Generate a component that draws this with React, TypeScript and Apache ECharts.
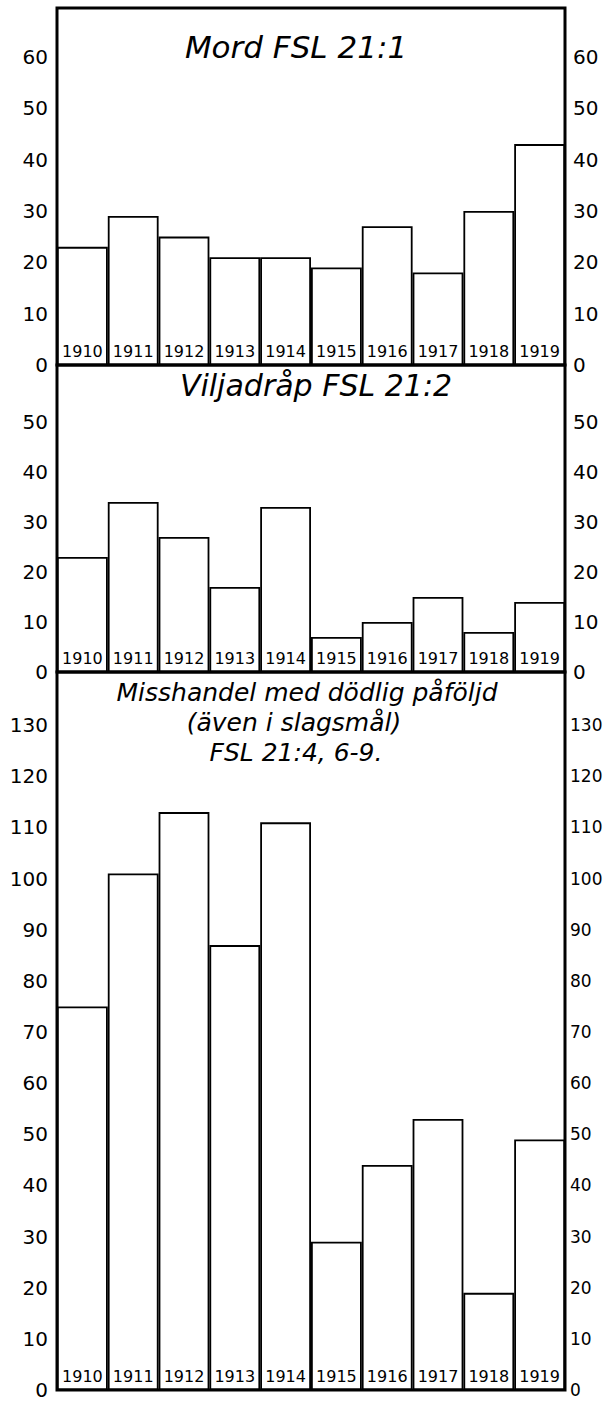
import React, { useEffect, useRef } from "react";
import * as echarts from "echarts";

const years = ["1910", "1911", "1912", "1913", "1914", "1915", "1916", "1917", "1918", "1919"];
const mordValues = [23, 29, 25, 21, 21, 19, 27, 18, 30, 43];
const viljadrapValues = [23, 34, 27, 17, 33, 7, 10, 15, 8, 14];
const misshandelValues = [75, 101, 113, 87, 111, 29, 44, 53, 19, 49];

const panelTitles = [
  ["Mord FSL 21:1"],
  ["Viljadråp FSL 21:2"],
  ["Misshandel med dödlig påföljd", "(även i slagsmål)", "FSL 21:4, 6-9."],
];
const axisMax = [69.5, 61.4, 140.4];
const labelMax = [60, 50, 130];

export default function App() {
  const ref = useRef<HTMLDivElement>(null);
  useEffect(() => {
    const chart = echarts.init(ref.current!, null, { renderer: "svg" });
    const datasets = [mordValues, viljadrapValues, misshandelValues];
    const grids = [
      { left: 57, width: 508, top: 8, height: 357 },
      { left: 57, width: 508, top: 365, height: 307 },
      { left: 57, width: 508, top: 672, height: 718 },
    ];
    const font = "DejaVu Sans";
    const xAxis: any[] = [];
    const yAxis: any[] = [];
    const series: any[] = [];
    grids.forEach((g, i) => {
      xAxis.push({
        type: "category",
        gridIndex: i,
        data: years,
        axisLine: { show: false },
        axisTick: { show: false },
        axisLabel: { show: false },
      });
      ["left", "right"].forEach((pos) => {
        const narrow = pos === "right" && i === 2;
        yAxis.push({
          type: "value",
          gridIndex: i,
          position: pos,
          min: 0,
          max: axisMax[i],
          interval: 10,
          axisLine: { show: false },
          axisTick: { show: false },
          splitLine: { show: false },
          axisLabel: {
            showMaxLabel: false,
            margin: pos === "left" ? 9 : narrow ? 5 : 8,
            color: "#000",
            fontFamily: font,
            fontSize: narrow ? 17 : 20,
            formatter: (v: number) => (v <= labelMax[i] ? String(v) : ""),
          },
        });
      });
      series.push({
        type: "bar",
        xAxisIndex: i,
        yAxisIndex: i * 2,
        data: datasets[i],
        barWidth: "100%",
        barCategoryGap: 0,
        itemStyle: { color: "#fff", borderColor: "#000", borderWidth: 1.8 },
        label: {
          show: true,
          position: "insideBottom",
          distance: 6,
          formatter: "{b}",
          color: "#000",
          fontFamily: font,
          fontSize: 16,
        },
      });
    });
    const titlePos = [
      [[296, 47]],
      [[316, 385]],
      [
        [307, 692],
        [294, 722],
        [296, 752],
      ],
    ];
    const titleSize = [31, 30, 25];
    const graphic: any[] = [];
    panelTitles.forEach((lines, i) => {
      lines.forEach((t, j) => {
        graphic.push({
          type: "text",
          x: titlePos[i][j][0],
          y: titlePos[i][j][1],
          style: {
            text: t,
            fontFamily: font,
            fontStyle: "italic",
            fontSize: titleSize[i],
            fill: "#000",
            align: "center",
            verticalAlign: "middle",
          },
          z: 100,
        });
      });
    });
    chart.setOption({
      animation: false,
      backgroundColor: "#fff",
      grid: grids.map((g) => ({
        ...g,
        show: true,
        borderColor: "#000",
        borderWidth: 3,
        backgroundColor: "transparent",
        containLabel: false,
        outerBoundsMode: "none",
      })),
      xAxis,
      yAxis,
      series,
      graphic,
    });
    return () => chart.dispose();
  }, []);
  return (
    <div
      ref={ref}
      style={{ position: "absolute", left: 0, top: 0, width: 606, height: 1401, background: "#fff" }}
    />
  );
}
